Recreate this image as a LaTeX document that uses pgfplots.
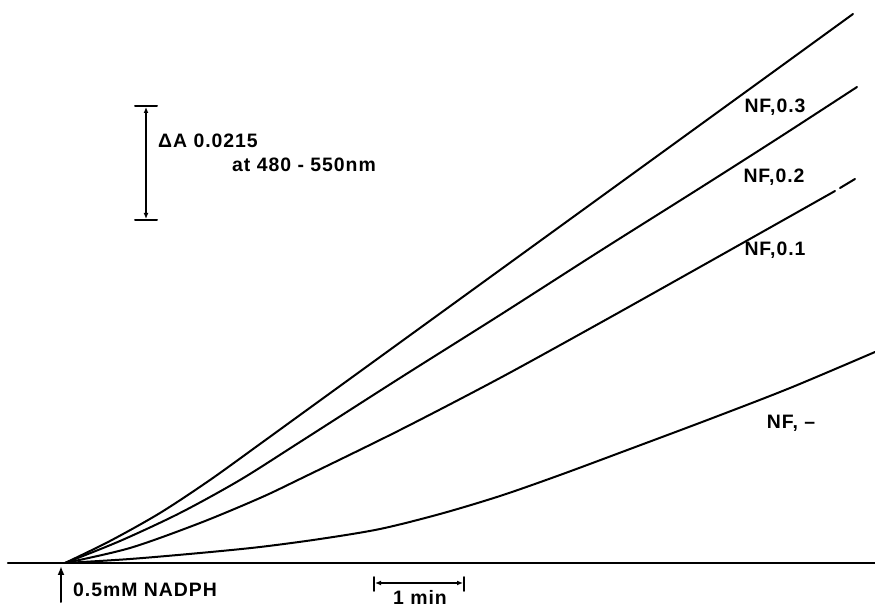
\documentclass[border=0pt]{standalone}
\usepackage{pgfplots}
\pgfplotsset{compat=1.18}
\usepackage{fontspec}
\setmainfont{Liberation Sans}
\usetikzlibrary{arrows.meta}
\begin{document}
\begin{tikzpicture}
\begin{axis}[
  scale only axis, width=875bp, height=610bp,
  xmin=0, xmax=875, ymin=0, ymax=610, y dir=reverse,
  hide axis, clip=false,
  every axis plot/.append style={black, no markers, line width=2bp, line cap=round},
]
% baseline
\addplot[black, line width=2.3bp] coordinates {(8,563) (875,563)};
% NF,0.3
\addplot[black, smooth] coordinates {(65,563) (110,541) (160,513) (210,480) (260,444) (300,415) (400,342.5) (500,270) (600,197.5) (700,125) (780,67) (853,14)};
% NF,0.2
\addplot[black, smooth] coordinates {(65,563) (120,541) (180,513) (240,480) (300,442) (400,378) (500,315) (600,251) (700,188) (780,137) (857,87)};
% NF,0.1
\addplot[black, smooth] coordinates {(65,563) (130,548) (200,523) (260,498) (300,479) (400,430) (500,378) (600,323) (700,267) (780,222) (835,191)};
\addplot[black] coordinates {(840,188) (855,179)};
% NF,-
\addplot[black, smooth] coordinates {(65,563) (130,559) (200,553) (260,547) (320,539) (380,529) (440,514) (500,496) (560,475) (630,449) (710,419) (790,388) (875,352)};
% vertical scale bar
\addplot[black, line width=2.2bp, {Latex[length=6bp,width=5bp]}-{Latex[length=6bp,width=5bp]}] coordinates {(146,107) (146,219)};
\addplot[black, line width=2bp] coordinates {(135,106) (157,106)};
\addplot[black, line width=2bp] coordinates {(135,220) (157,220)};
% horizontal scale bar
\addplot[black, line width=1.8bp, {Latex[length=6bp,width=5bp]}-{Latex[length=6bp,width=5bp]}] coordinates {(375,583) (463,583)};
\addplot[black, line width=1.8bp] coordinates {(374,577) (374,591)};
\addplot[black, line width=1.8bp] coordinates {(464,577) (464,591)};
% NADPH arrow
\addplot[black, line width=2bp, -{Latex[length=9bp,width=7bp]}] coordinates {(61,602) (61,566)};
% texts
\begin{scope}[every node/.style={font=\fontsize{19.5}{22}\selectfont\bfseries\addfontfeature{LetterSpace=5}, inner sep=0pt}]
\node[anchor=west] at (axis cs:73,590) {0.5mM NADPH};
\node[anchor=west] at (axis cs:158,141) {ΔA 0.0215};
\node[anchor=west] at (axis cs:232,165) {at 480 - 550nm};
\node[anchor=base] at (axis cs:420,605) {1 min};
\node at (axis cs:775,107) {NF,0.3};
\node at (axis cs:774,177) {NF,0.2};
\node at (axis cs:775,250) {NF,0.1};
\node at (axis cs:791,423) {NF, --};
\end{scope}
\end{axis}
\pgfresetboundingbox
\useasboundingbox (current axis.south west) rectangle (current axis.north east);
\end{tikzpicture}
\end{document}
